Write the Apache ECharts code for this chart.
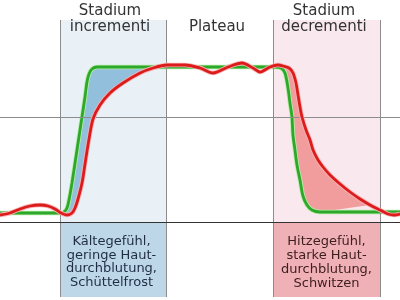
<!DOCTYPE html>
<html>
<head>
<meta charset="utf-8">
<script src="https://cdn.jsdelivr.net/npm/echarts@6/dist/echarts.min.js"></script>
<style>
html,body{margin:0;padding:0;background:#fff;}
#chart{width:400px;height:300px;}
</style>
</head>
<body>
<div id="chart"></div>
<script>
// Time (x) and temperature-like level (y) (arbitrary units)
const greenX = [0, 60, 64, 67, 69, 72, 77, 82, 85, 87, 89, 92, 97, 110, 140, 200, 250, 275, 281, 285, 288, 290, 292, 293, 295, 297, 300, 303, 307, 312, 320, 400];
const greenY = [87, 87, 88, 92, 100, 117, 150, 183, 203, 218, 226, 231, 233, 233, 233, 233, 233, 233, 232, 227, 212, 197, 183, 165, 150, 135, 120, 104, 95, 90, 88, 88];
const redX = [0, 10, 20, 30, 40, 48, 55, 61, 67, 72, 75, 78, 82, 85, 87, 89, 93, 100, 110, 123, 140, 153, 167, 185, 200, 213, 228, 242, 253, 260, 270, 278, 283, 289, 293, 296, 298, 300, 302, 306, 310, 313, 318, 323, 330, 340, 350, 360, 370, 380, 388, 394, 400];
const redY = [85, 87, 91, 94, 95, 94, 91, 87, 85, 87, 92, 101, 117, 136, 149, 161, 181, 195, 207, 217, 227, 232, 235, 235, 232, 227, 233, 237, 232, 228, 233, 235, 234, 232, 227, 217, 205, 193, 183, 170, 160, 150, 140, 133, 125, 116, 108, 101, 95, 90, 86, 85, 86];
const phaseNames = ['Stadium\nincrementi', 'Plateau', 'Stadium\ndecrementi'];
const phaseBounds = [60, 166, 273, 380];
const refLevels = [183, 78];
const boxTexts = ['Kältegefühl,\ngeringe Haut-\ndurchblutung,\nSchüttelfrost', 'Hitzegefühl,\nstarke Haut-\ndurchblutung,\nSchwitzen'];
const riseFillRange = [63, 162];
const fallFillRange = [283, 379];

const green = greenX.map((x, i) => [x, greenY[i]]);
const red = redX.map((x, i) => [x, redY[i]]);

function fillPoly(upper, lower, range) {
  const a = upper.filter(p => p[0] >= range[0] && p[0] <= range[1]);
  const b = lower.filter(p => p[0] >= range[0] && p[0] <= range[1]).reverse();
  return a.concat(b);
}
const risePoly = fillPoly(green, red, riseFillRange);
const fallPoly = fillPoly(red, green, fallFillRange);

const chart = echarts.init(document.getElementById('chart'), null, {renderer: 'canvas'});
const lineTop = 280, lineBottom = 3, bandBottom = refLevels[1];

function polySeries(poly, color) {
  return {
    type: 'custom', z: 2, silent: true,
    data: [[0]],
    renderItem: function (params, api) {
      return {type: 'polygon', shape: {points: poly.map(p => api.coord(p))}, style: {fill: color}};
    }
  };
}
const titleStyle = {font: '15px "DejaVu Sans"', fill: '#333', align: 'center', verticalAlign: 'top', lineHeight: 16};

chart.setOption({
  animation: false,
  backgroundColor: '#ffffff',
  grid: {left: 0, right: 0, top: 0, bottom: 0},
  xAxis: {type: 'value', min: 0, max: 400, show: false},
  yAxis: {type: 'value', min: 0, max: 300, show: false},
  graphic: [
    {type: 'text', z: 100, x: 110, y: 3, style: Object.assign({text: phaseNames[0]}, titleStyle)},
    {type: 'text', z: 100, x: 217, y: 19, style: Object.assign({text: phaseNames[1]}, titleStyle)},
    {type: 'text', z: 100, x: 324, y: 3, style: Object.assign({text: phaseNames[2]}, titleStyle)}
  ],
  series: [
    {
      type: 'line', z: 1, data: [], silent: true,
      markArea: {
        silent: true,
        data: [
          [{coord: [phaseBounds[0], lineTop], itemStyle: {color: '#e9f1f7'}}, {coord: [phaseBounds[1], bandBottom]}],
          [{coord: [phaseBounds[2], lineTop], itemStyle: {color: '#f9e8ed'}}, {coord: [phaseBounds[3], bandBottom]}],
          [{coord: [phaseBounds[0], bandBottom], itemStyle: {color: '#bdd6e8'},
            label: {show: true, position: 'inside', formatter: boxTexts[0], color: '#1f2d45', fontSize: 13, lineHeight: 13.6, fontFamily: 'DejaVu Sans', offset: [-1.5, 2.5]}},
           {coord: [phaseBounds[1], lineBottom]}],
          [{coord: [phaseBounds[2], bandBottom], itemStyle: {color: '#efb1b5'},
            label: {show: true, position: 'inside', formatter: boxTexts[1], color: '#3d1d1d', fontSize: 13, lineHeight: 14, fontFamily: 'DejaVu Sans', offset: [0, 3]}},
           {coord: [phaseBounds[3], lineBottom]}]
        ]
      }
    },
    polySeries(risePoly, '#92bfdc'),
    polySeries(fallPoly, '#f19d9e'),
    {
      type: 'line', z: 3, data: [], silent: true,
      markLine: {
        silent: true, symbol: ['none', 'none'], label: {show: false},
        lineStyle: {color: '#8c8c8c', width: 1, type: 'solid'},
        data: phaseBounds.map(x => [{coord: [x, lineTop]}, {coord: [x, lineBottom]}]).concat([
          [{coord: [0, refLevels[0]]}, {coord: [400, refLevels[0]]}],
          [{coord: [0, refLevels[1]], lineStyle: {color: '#333333'}}, {coord: [400, refLevels[1]], lineStyle: {color: '#333333'}}]
        ])
      }
    },
    {type: 'line', z: 4, data: green, smooth: 0.3, symbol: 'none', silent: true, lineStyle: {color: '#b4eca6', width: 4.5}},
    {type: 'line', z: 4, data: green, smooth: 0.3, symbol: 'none', silent: true, lineStyle: {color: '#2ea82a', width: 2.8}},
    {type: 'line', z: 5, data: red, smooth: 0.3, symbol: 'none', silent: true, lineStyle: {color: '#f7b4b4', width: 4.5}},
    {type: 'line', z: 5, data: red, smooth: 0.3, symbol: 'none', silent: true, lineStyle: {color: '#dc1c1c', width: 2.8}}
  ]
});
</script>
</body>
</html>
